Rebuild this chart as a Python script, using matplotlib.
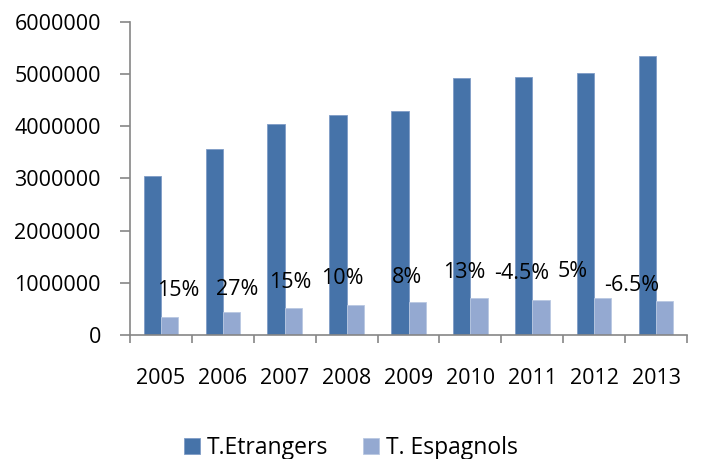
import numpy as np
import matplotlib.pyplot as plt
from matplotlib.ticker import FixedLocator

plt.rcParams['font.family'] = ['Open Sans', 'DejaVu Sans']

years = ['2005', '2006', '2007', '2008', '2009', '2010', '2011', '2012', '2013']
etrangers = [3050000, 3570000, 4040000, 4210000, 4290000, 4920000, 4940000, 5010000, 5340000]
espagnols = [345000, 440000, 520000, 575000, 626000, 710000, 670000, 710000, 657000]
pct_labels = ['15%', '27%', '15%', '10%', '8%', '13%', '-4.5%', '5%', '-6.5%']

# hand-placed label offsets (points) relative to the top of the light bar
label_offsets = [(6, 19), (4, 16), (-2, 18), (-9, 19), (-7, 18), (-11, 18), (-14, 19), (-22, 19), (-24, 11)]

dark = '#4673A9'
light = '#94A9D1'
grey = '#868686'
fs = 15.5

fig = plt.figure(figsize=(7.07, 4.59), dpi=100)
ax = fig.add_axes([0.1839, 0.2702, 0.7878, 0.6825])

x = np.arange(len(years))
w = 0.28
ax.bar(x - w/2, etrangers, w, color=dark, edgecolor='#7F9CC6', linewidth=0.6, label='T.Etrangers')
ax.bar(x + w/2, espagnols, w, color=light, edgecolor='#B9C8E2', linewidth=0.6, label='T. Espagnols')

for i in range(len(years)):
    ax.annotate(pct_labels[i], (x[i] + w/2, espagnols[i]), xytext=label_offsets[i],
                textcoords='offset points', ha='center', va='center', fontsize=fs)

ax.set_xlim(-0.5, len(years) - 0.5)
ax.set_ylim(0, 6000000)
ax.set_yticks(np.arange(0, 6000001, 1000000))
ax.set_yticklabels([str(v) for v in range(0, 6000001, 1000000)])
ax.set_xticks(x)
ax.set_xticklabels(years)
ax.xaxis.set_minor_locator(FixedLocator(np.arange(-0.5, len(years), 1)))

ax.tick_params(axis='x', which='major', length=0, pad=24, labelsize=fs)
ax.tick_params(axis='x', which='minor', length=6, width=1.2, color=grey)
ax.tick_params(axis='y', length=7, width=1.2, color=grey, pad=14, labelsize=fs)

for s in ['top', 'right']:
    ax.spines[s].set_visible(False)
for s in ['left', 'bottom']:
    ax.spines[s].set_color(grey)
    ax.spines[s].set_linewidth(1.2)

fig.legend(loc='lower center', bbox_to_anchor=(0.496, -0.047), ncol=2, frameon=False,
           fontsize=16.5, handlelength=0.7, handleheight=0.7, handletextpad=0.3, columnspacing=1.5)

fig.savefig('out.png', dpi=100)
